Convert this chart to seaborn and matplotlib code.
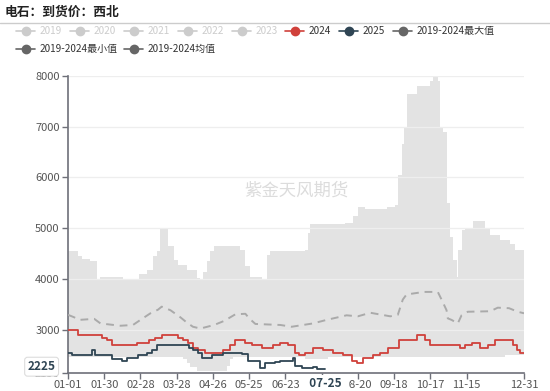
import numpy as np
import pandas as pd
import matplotlib
matplotlib.use("Agg")
import matplotlib.pyplot as plt
import seaborn as sns
from matplotlib.lines import Line2D

sns.set_theme(style="white")
plt.rcParams["font.family"] = ["Noto Sans CJK SC", "DejaVu Sans"]

# ---------------- data (day index of year, value) ----------------
tick_days = [0, 29, 58, 87, 116, 145, 174, 203, 232, 261, 290, 319, 365]
tick_labels = ["01-01", "01-30", "02-28", "03-28", "04-26", "05-25", "06-23",
               "07-22", "08-20", "09-18", "10-17", "11-15", "12-31"]

y2024_days = [0, 8, 27, 31, 35, 55, 65, 70, 75, 88, 92, 96, 100, 104, 110, 124, 130,
              134, 142, 147, 155, 164, 170, 176, 182, 185, 190, 196, 204, 212, 220,
              227, 231, 236, 244, 250, 256, 265, 279, 286, 290, 314, 318, 323, 330,
              336, 342, 356, 359, 362, 365]
y2024_vals = [3000, 2900, 2850, 2800, 2700, 2750, 2800, 2850, 2900, 2850, 2800, 2750,
              2650, 2600, 2550, 2600, 2700, 2800, 2750, 2700, 2650, 2700, 2750, 2700,
              2550, 2500, 2550, 2650, 2600, 2550, 2500, 2400, 2350, 2450, 2500, 2550,
              2650, 2800, 2900, 2800, 2700, 2650, 2700, 2750, 2650, 2700, 2800, 2700,
              2600, 2550, 2550]

y2025_days = [0, 3, 19, 22, 35, 43, 47, 56, 63, 67, 71, 97, 100, 104, 107, 115, 124,
              139, 144, 154, 158, 166, 170, 180, 182, 187, 196, 199, 206]
y2025_vals = [2550, 2500, 2600, 2500, 2425, 2400, 2450, 2500, 2550, 2600, 2700, 2650,
              2600, 2550, 2450, 2500, 2550, 2525, 2400, 2250, 2350, 2375, 2400, 2450,
              2300, 2250, 2275, 2225, 2225]

max_days = [0, 8, 11, 18, 23, 26, 44, 55, 57, 63, 68, 71, 74, 80, 85, 88, 95, 103, 106,
            108, 111, 114, 117, 138, 142, 146, 155, 159, 162, 190, 192, 194, 222, 228,
            232, 238, 255, 262, 264, 267, 269, 271, 279, 290, 292, 296, 298, 300, 303,
            306, 308, 311, 312, 315, 318, 324, 334, 338, 346, 354, 358, 365]
max_vals = [4550, 4450, 4400, 4350, 4000, 4050, 3980, 4000, 4100, 4180, 4450, 4550, 5000,
            4650, 4380, 4280, 4180, 4020, 3980, 4150, 4350, 4550, 4650, 4580, 4250, 4050,
            3980, 4470, 4550, 4570, 4900, 5080, 5100, 5250, 5420, 5380, 5420, 5450, 6050,
            6650, 7000, 7640, 7790, 7900, 8000, 7900, 7000, 6900, 5500, 4830, 4380, 4050,
            4570, 4960, 4980, 5140, 5000, 4870, 4770, 4700, 4570, 4550]

min_days = [0, 92, 95, 98, 103, 127, 130, 132, 190, 208, 350, 365]
min_vals = [2480, 2440, 2350, 2280, 2200, 2300, 2440, 2480, 2430, 2480, 2510, 2510]

mean_days = [0, 5, 9, 21, 26, 42, 52, 58, 66, 72, 75, 79, 82, 86, 90, 95, 100, 106, 117,
             125, 134, 142, 145, 150, 170, 179, 196, 207, 223, 232, 242, 258, 264, 268,
             271, 285, 296, 299, 303, 304, 307, 312, 315, 320, 338, 344, 353, 360, 365]
mean_vals = [3300, 3250, 3200, 3220, 3130, 3085, 3100, 3200, 3330, 3400, 3460, 3420, 3390,
             3320, 3250, 3150, 3065, 3030, 3100, 3180, 3310, 3320, 3230, 3120, 3100, 3065,
             3130, 3200, 3290, 3270, 3340, 3270, 3300, 3600, 3700, 3750, 3750, 3600, 3390,
             3230, 3200, 3130, 3290, 3360, 3370, 3440, 3430, 3360, 3330]

Y_MIN, Y_MAX = 2150, 8000
RED = "#d0413b"
BLUE = "#2f4554"
GRAYM = "#aaaaaa"
BAND = "#e3e3e3"

W, H = 550, 391
fig = plt.figure(figsize=(W / 100, H / 100), dpi=100)
fig.patch.set_facecolor("white")


def fx(x):
    return x / W


def fy(y):
    return 1 - y / H


ax = fig.add_axes([fx(68), 1 - 373.3 / H, 456 / W, (373.3 - 75.7) / H])
ax.set_facecolor("white")

# band: max filled gray, then min filled white
ax.fill_between(max_days, max_vals, Y_MIN, step="post", color=BAND, lw=0, zorder=1)
ax.fill_between(min_days, min_vals, Y_MIN, step="post", color="white", lw=0, zorder=1.2)

for g in [3000, 4000, 5000, 6000, 7000, 8000]:
    ax.axhline(g, color="#eeeeee", lw=0.9, zorder=1.5)

df24 = pd.DataFrame({"day": y2024_days, "v": y2024_vals})
df25 = pd.DataFrame({"day": y2025_days, "v": y2025_vals})
dfm = pd.DataFrame({"day": mean_days, "v": mean_vals})

sns.lineplot(data=dfm, x="day", y="v", ax=ax, color=GRAYM, lw=1.4,
             linestyle=(0, (4, 3)), zorder=3)
sns.lineplot(data=df24, x="day", y="v", ax=ax, color=RED, lw=1.3,
             drawstyle="steps-post", zorder=4)
sns.lineplot(data=df25, x="day", y="v", ax=ax, color=BLUE, lw=1.3,
             drawstyle="steps-post", zorder=5)

ax.set_xlim(0, 365)
ax.set_ylim(Y_MIN, Y_MAX)
ax.set_xlabel("")
ax.set_ylabel("")
ax.set_yticks([Y_MIN, 3000, 4000, 5000, 6000, 7000, 8000])
ax.set_yticklabels([str(Y_MIN), "3000", "4000", "5000", "6000", "7000", "8000"])
ax.set_xticks(tick_days)
ax.set_xticklabels(tick_labels)
ax.tick_params(axis="both", which="both", direction="out", length=4, width=1,
               color="#6e7079", labelcolor="#555555", labelsize=8,
               bottom=True, left=True)
ax.tick_params(axis="x", pad=1)
ax.tick_params(axis="y", pad=2)
for s in ["top", "right"]:
    ax.spines[s].set_visible(False)
for s in ["left", "bottom"]:
    ax.spines[s].set_color("#6e7079")
    ax.spines[s].set_linewidth(1.2)
ax.grid(False)

# watermark
ax.text(0.5, 0.615, "紫金天风期货", transform=ax.transAxes, ha="center", va="center",
        fontsize=12.5, color="#dcdcdc", zorder=2)

# highlighted axis-pointer labels
ax.annotate("  07-25  ", xy=(206, Y_MIN), xycoords="data", xytext=(0, -7),
            textcoords="offset points", ha="center", va="center", fontsize=8.5,
            fontweight="bold", color=BLUE, annotation_clip=False, zorder=10,
            bbox=dict(boxstyle="square,pad=0.15", fc="white", ec="none"))
ax.annotate("2225", xy=(0, 2225), xycoords="data", xytext=(-19, 2),
            textcoords="offset points", ha="center", va="center", fontsize=8.5,
            fontweight="bold", color=BLUE, annotation_clip=False, zorder=10,
            bbox=dict(boxstyle="round,pad=0.25", fc="white", ec="#dddddd", lw=0.8))

# title and separator
fig.text(fx(5), fy(12), "电石：到货价：西北", fontsize=9.2, fontweight="bold",
         color="#222222", ha="left", va="center")
fig.add_artist(Line2D([0, 1], [fy(22.7), fy(22.7)], transform=fig.transFigure,
                      color="#cccccc", lw=1))

# legend drawn manually
legend_items = [
    ("2019", "#cccccc", "#cccccc", 16, 31),
    ("2020", "#cccccc", "#cccccc", 70, 31),
    ("2021", "#cccccc", "#cccccc", 124, 31),
    ("2022", "#cccccc", "#cccccc", 178, 31),
    ("2023", "#cccccc", "#cccccc", 232, 31),
    ("2024", RED, "#333333", 285, 31),
    ("2025", BLUE, "#333333", 339, 31),
    ("2019-2024最大值", "#666666", "#333333", 393, 31),
    ("2019-2024最小值", "#666666", "#333333", 16, 49),
    ("2019-2024均值", "#666666", "#333333", 124, 49),
]
for label, col, tcol, x0, y0 in legend_items:
    fig.add_artist(Line2D([fx(x0), fx(x0 + 19)], [fy(y0), fy(y0)],
                          transform=fig.transFigure, color=col, lw=1.2))
    fig.add_artist(Line2D([fx(x0 + 9.5)], [fy(y0)], transform=fig.transFigure,
                          color=col, marker="o", markersize=6, lw=0))
    fig.text(fx(x0 + 24), fy(y0), label, fontsize=7.2, color=tcol, ha="left",
             va="center")

fig.savefig("out.png", dpi=100, facecolor="white")
